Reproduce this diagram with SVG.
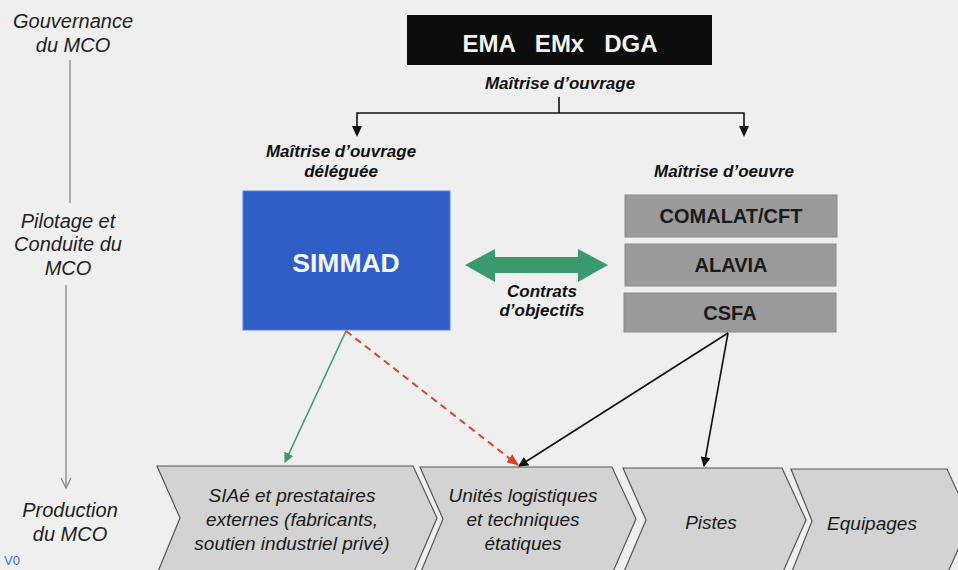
<svg xmlns="http://www.w3.org/2000/svg" width="958" height="570" viewBox="0 0 958 570">
<style>
.side{font-family:"Liberation Sans",Arial,sans-serif;font-style:italic;font-size:20px;fill:#222;text-anchor:middle}
.lbl{font-family:"Liberation Sans",Arial,sans-serif;font-style:italic;font-weight:bold;font-size:17px;fill:#111;text-anchor:middle}
.gbox{fill:#9a9a9a;stroke:#8a8a8a;stroke-width:1}
.gtxt{font-family:"Liberation Sans",Arial,sans-serif;font-weight:bold;font-size:20px;fill:#1a1a1a;text-anchor:middle}
.chev{fill:#d3d3d3;stroke:#555;stroke-width:1.2}
.ctxt{font-family:"Liberation Sans",Arial,sans-serif;font-style:italic;font-size:19px;fill:#1a1a1a;text-anchor:middle}
.blk{stroke:#111;stroke-width:1.6;fill:none}
</style>
<defs>
<marker id="ab" markerWidth="10" markerHeight="10" refX="9" refY="5" orient="auto" markerUnits="userSpaceOnUse"><path d="M0,0 L10,5 L0,10 Z" fill="#111"/></marker>
<marker id="ag" markerWidth="10" markerHeight="10" refX="9" refY="5" orient="auto" markerUnits="userSpaceOnUse"><path d="M0,0 L10,5 L0,10 Z" fill="#3d9a72"/></marker>
<marker id="ar" markerWidth="12" markerHeight="10" refX="11" refY="5" orient="auto" markerUnits="userSpaceOnUse"><path d="M0,0 L12,5 L0,10 Z" fill="#e0402a"/></marker>
</defs>
<rect width="958" height="570" fill="#efefef"/>

<g id="axis">
<text class="side" x="73" y="28">Gouvernance</text>
<text class="side" x="73" y="52">du MCO</text>
<line x1="70" y1="60" x2="70" y2="203" stroke="#888" stroke-width="1.3"/>
<text class="side" x="68" y="228">Pilotage et</text>
<text class="side" x="68" y="251">Conduite du</text>
<text class="side" x="68" y="275">MCO</text>
<line x1="66" y1="285" x2="66" y2="488" stroke="#888" stroke-width="1.3"/>
<polyline points="61,478 66,488 71,478" fill="none" stroke="#888" stroke-width="1.3"/>
<text class="side" x="70" y="517">Production</text>
<text class="side" x="70" y="541">du MCO</text>
<text x="4" y="565" font-family="Liberation Sans,Arial,sans-serif" font-size="13" fill="#3a6fc8">V0</text>
</g>

<g id="top">
<rect x="407" y="15" width="305" height="50" fill="#0d0d0d"/>
<text x="560" y="52" font-family="Liberation Sans,Arial,sans-serif" font-weight="bold" font-size="24" fill="#f2f2f2" text-anchor="middle" xml:space="preserve">EMA   EMx   DGA</text>
<text class="lbl" x="560" y="89">Maîtrise d’ouvrage</text>
</g>

<g id="simmad">
<text class="lbl" x="341" y="157">Maîtrise d’ouvrage</text>
<text class="lbl" x="341" y="177">déléguée</text>
<rect x="243" y="191" width="207" height="139" fill="#2f5fc6" stroke="#5a80d8" stroke-width="1"/>
<text x="346" y="272" font-family="Liberation Sans,Arial,sans-serif" font-weight="bold" font-size="26.5" fill="#f4f4f4" text-anchor="middle">SIMMAD</text>
</g>

<g id="contrats">
<path d="M465,265 L495,249 L495,257 L578,257 L578,249 L608,265 L578,282 L578,273 L495,273 L495,282 Z" fill="#3a9a6e"/>
<text class="lbl" x="542" y="297">Contrats</text>
<text class="lbl" x="542" y="316">d’objectifs</text>
</g>

<g id="moe">
<text class="lbl" x="724" y="177">Maîtrise d’oeuvre</text>
<rect class="gbox" x="625" y="195" width="212" height="42"/>
<text class="gtxt" x="731" y="223">COMALAT/CFT</text>
<rect class="gbox" x="625" y="244" width="211" height="42"/>
<text class="gtxt" x="731" y="272">ALAVIA</text>
<rect class="gbox" x="624" y="293" width="212" height="39"/>
<text class="gtxt" x="730" y="320">CSFA</text>
</g>

<g id="prod1">
<path class="chev" d="M157,466 L413,466 L437,518 L413,574 L157,574 L180,518 Z"/>
<text class="ctxt" x="292" y="502">SIAé et prestataires</text>
<text class="ctxt" x="292" y="526">externes (fabricants,</text>
<text class="ctxt" x="292" y="550">soutien industriel privé)</text>
</g>
<g id="prod2">
<path class="chev" d="M420,467 L612,467 L636,519 L612,574 L420,574 L443,519 Z"/>
<text class="ctxt" x="523" y="502">Unités logistiques</text>
<text class="ctxt" x="523" y="526">et techniques</text>
<text class="ctxt" x="523" y="550">étatiques</text>
</g>
<g id="prod3">
<path class="chev" d="M623,468 L782,468 L806,520 L782,574 L623,574 L646,520 Z"/>
<text class="ctxt" x="711" y="529">Pistes</text>
</g>
<g id="prod4">
<path class="chev" d="M791,469 L947,469 L971,521 L947,574 L791,574 L812,521 Z"/>
<text class="ctxt" x="872" y="530" font-size="20">Equipages</text>
</g>

<g id="connectors">
<line class="blk" x1="559" y1="97" x2="559" y2="113" stroke-width="1.3"/>
<polyline class="blk" points="357,128 357,113 744,113 744,128" stroke-width="1.3" fill="none"/>
<path d="M352,126 L362,126 L357,137 Z" fill="#111"/>
<path d="M739,126 L749,126 L744,137 Z" fill="#111"/>
<line x1="346" y1="331" x2="285" y2="462" stroke="#3d9a72" stroke-width="1.6" marker-end="url(#ag)"/>
<line x1="346" y1="331" x2="518" y2="465" stroke="#e0402a" stroke-width="2" stroke-dasharray="7,5" marker-end="url(#ar)"/>
<line class="blk" x1="728" y1="333" x2="519" y2="466" marker-end="url(#ab)"/>
<line class="blk" x1="728" y1="333" x2="704" y2="466" marker-end="url(#ab)"/>
</g>
</svg>
